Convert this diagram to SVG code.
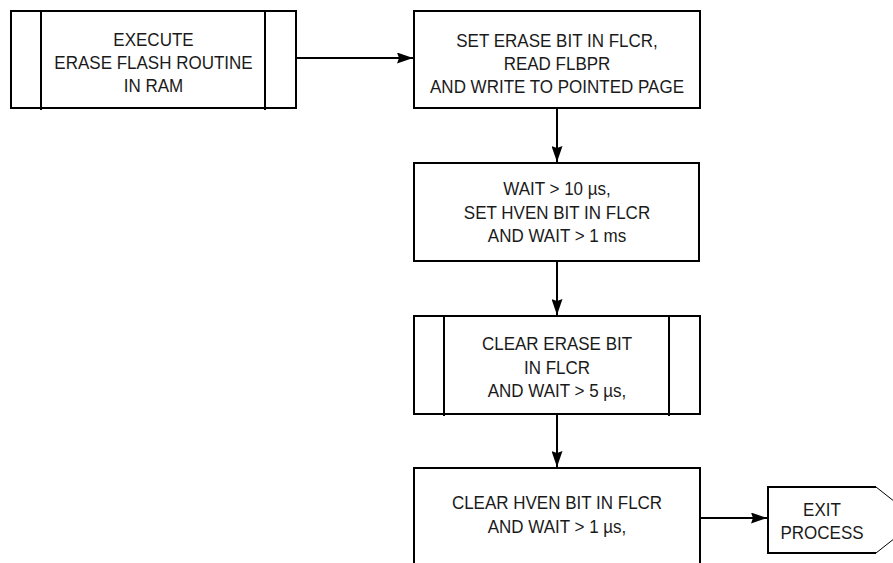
<svg xmlns="http://www.w3.org/2000/svg" width="893" height="563" viewBox="0 0 893 563">
  <style>
    .box { fill: #ffffff; stroke: #000000; stroke-width: 2; }
    .bar { stroke: #000000; stroke-width: 2; fill: none; }
    .thin { stroke: #000000; stroke-width: 1; fill: none; }
    .conn { stroke: #000000; stroke-width: 2; fill: none; }
    text { font-family: "Liberation Sans", Arial, sans-serif; font-size: 19px; fill: #1a1a1a; text-anchor: middle; }
  </style>
  <defs>
    <marker id="arrow" viewBox="0 0 16 11" refX="16" refY="5.5" markerWidth="16" markerHeight="11" markerUnits="userSpaceOnUse" orient="auto">
      <path d="M0,0 L16,5.5 L0,11 L2,5.5 Z" fill="#000000"/>
    </marker>
  </defs>
  <rect width="893" height="563" fill="#ffffff"/>

  <g id="connectors">
    <line class="conn" x1="297" y1="58" x2="413" y2="58" marker-end="url(#arrow)"/>
    <line class="conn" x1="557" y1="109" x2="557" y2="162" marker-end="url(#arrow)"/>
    <line class="conn" x1="557" y1="262" x2="557" y2="315" marker-end="url(#arrow)"/>
    <line class="conn" x1="557" y1="415" x2="557" y2="467" marker-end="url(#arrow)"/>
    <line class="conn" x1="701" y1="518" x2="767" y2="518" marker-end="url(#arrow)"/>
  </g>

  <!-- labels use a condensed rendering: scaled horizontally around each line's centre -->
  <g id="execute-routine">
    <rect class="box" x="11" y="11" width="285" height="97"/>
    <line class="bar" x1="41" y1="11" x2="41" y2="110"/>
    <line class="bar" x1="265" y1="11" x2="265" y2="110"/>
    <text transform="translate(153.5 46) scale(0.895 1)">EXECUTE</text>
    <text transform="translate(153.5 69) scale(0.895 1)">ERASE FLASH ROUTINE</text>
    <text transform="translate(153.5 92) scale(0.895 1)">IN RAM</text>
  </g>

  <g id="set-erase">
    <rect class="box" x="414" y="11" width="286" height="97"/>
    <text transform="translate(557 47) scale(0.895 1)">SET ERASE BIT IN FLCR,</text>
    <text transform="translate(557 70) scale(0.895 1)">READ FLBPR</text>
    <text transform="translate(557 93) scale(0.895 1)">AND WRITE TO POINTED PAGE</text>
  </g>

  <g id="wait-hven">
    <rect class="box" x="414" y="163" width="285" height="98"/>
    <text transform="translate(557 195) scale(0.895 1)">WAIT &gt; 10 µs,</text>
    <text transform="translate(557 219) scale(0.895 1)">SET HVEN BIT IN FLCR</text>
    <text transform="translate(557 242) scale(0.895 1)">AND WAIT &gt; 1 ms</text>
  </g>

  <g id="clear-erase">
    <rect class="box" x="414" y="316" width="286" height="98"/>
    <line class="bar" x1="444" y1="316" x2="444" y2="416"/>
    <line class="bar" x1="669" y1="316" x2="669" y2="416"/>
    <text transform="translate(557 350) scale(0.895 1)">CLEAR ERASE BIT</text>
    <text transform="translate(557 374) scale(0.895 1)">IN FLCR</text>
    <text transform="translate(557 397) scale(0.895 1)">AND WAIT &gt; 5 µs,</text>
  </g>

  <g id="clear-hven">
    <path class="box" d="M414,565 L414,468 L700,468 L700,565"/>
    <text transform="translate(557 509) scale(0.895 1)">CLEAR HVEN BIT IN FLCR</text>
    <text transform="translate(557 533) scale(0.895 1)">AND WAIT &gt; 1 µs,</text>
  </g>

  <g id="exit-process">
    <path class="box" d="M876,487 L768,487 L768,553 L876,553"/>
    <path class="thin" d="M876,487 L918,520 L876,553"/>
    <text transform="translate(822 516) scale(0.895 1)">EXIT</text>
    <text transform="translate(822 539) scale(0.895 1)">PROCESS</text>
  </g>
</svg>
